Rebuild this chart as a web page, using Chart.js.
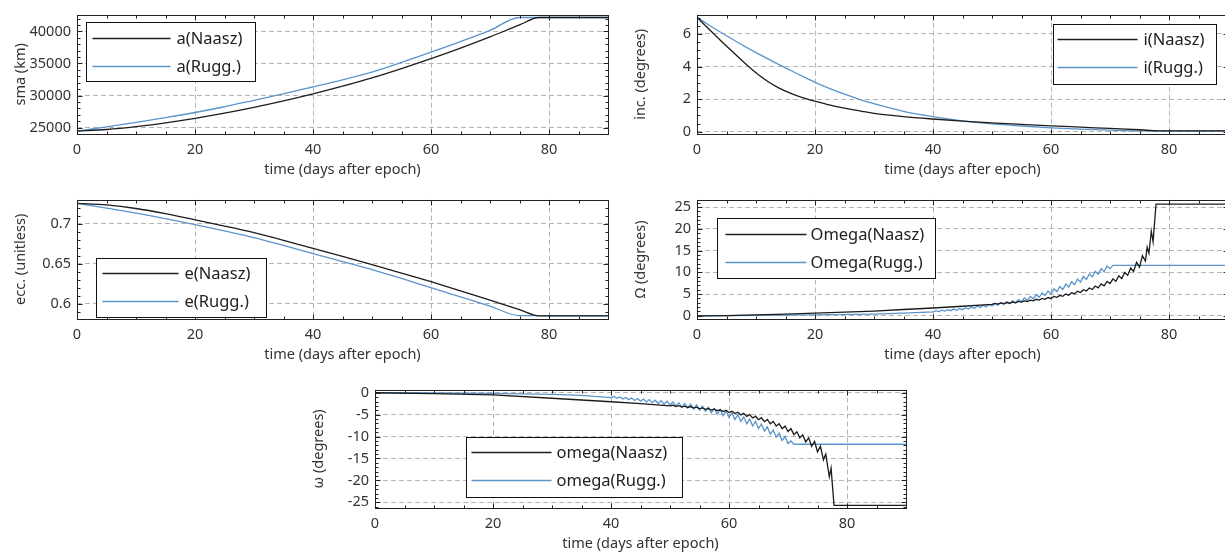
<!DOCTYPE html>
<html><head><meta charset="utf-8">
<script src="https://cdn.jsdelivr.net/npm/chart.js@4.4.0/dist/chart.umd.min.js"></script>
<style>
html,body{margin:0;padding:0;background:#fff;overflow:hidden;width:1225px;height:557px;position:relative}
canvas{position:absolute;display:block}
</style></head><body>
<canvas id="c1"></canvas>
<canvas id="c2"></canvas>
<canvas id="c3"></canvas>
<canvas id="c4"></canvas>
<canvas id="c5"></canvas>
<script>
// ---------- axis ticks ----------
const xTicks = [0, 20, 40, 60, 80];
const smaTicks = [25000, 30000, 35000, 40000];
const incTicks = [0, 2, 4, 6];
const eccTicks = [0.6, 0.65, 0.7];
const raanTicks = [0, 5, 10, 15, 20, 25];
const aopTicks = [-25, -20, -15, -10, -5, 0];

// ---------- series labels ----------
const smaLabels = ['a(Naasz)', 'a(Rugg.)'];
const incLabels = ['i(Naasz)', 'i(Rugg.)'];
const eccLabels = ['e(Naasz)', 'e(Rugg.)'];
const raanLabels = ['Omega(Naasz)', 'Omega(Rugg.)'];
const aopLabels = ['omega(Naasz)', 'omega(Rugg.)'];
const xTitle = 'time (days after epoch)';

// ---------- data [day, value] ----------
const smaNaasz = [[0,24450],[5,24700],[10,25150],[15,25750],[20,26450],[25,27250],[30,28150],[35,29150],[40,30250],[45,31450],[50,32750],[55,34200],[60,35750],[65,37400],[70,39150],[75,41000],[78.3,42164],[90,42164]];
const smaRugg = [[0,24450],[5,25100],[10,25800],[15,26550],[20,27350],[25,28250],[30,29250],[35,30250],[40,31350],[45,32450],[50,33650],[55,35150],[60,36750],[65,38400],[70,40150],[75,42164],[90,42164]];

const incNaasz = [[0,7.02],[2,6.3],[4,5.6],[6,4.92],[8,4.25],[10,3.62],[12,3.08],[14,2.66],[16,2.34],[18,2.08],[20,1.87],[22,1.68],[25,1.45],[28,1.25],[30,1.13],[35,0.93],[40,0.78],[45,0.65],[50,0.54],[55,0.45],[60,0.36],[65,0.28],[70,0.2],[75,0.12],[78.3,0.05],[90,0.05]];
const incRugg = [[0,7.02],[2,6.55],[4,6.1],[6,5.67],[8,5.25],[10,4.85],[12,4.47],[14,4.1],[16,3.74],[18,3.38],[20,3.03],[22,2.72],[25,2.3],[28,1.93],[30,1.72],[35,1.25],[40,0.92],[45,0.66],[50,0.48],[55,0.35],[60,0.24],[65,0.16],[70,0.1],[75,0.05],[90,0.05]];

const eccNaasz = [[0,0.7254],[5,0.7234],[10,0.7190],[15,0.7125],[20,0.7048],[25,0.6970],[30,0.6887],[35,0.6792],[40,0.6690],[45,0.6590],[50,0.6488],[55,0.6383],[60,0.6274],[65,0.6160],[70,0.6044],[75,0.5925],[78.3,0.5848],[90,0.5848]];
const eccRugg = [[0,0.7254],[5,0.7194],[10,0.7133],[15,0.7062],[20,0.6988],[25,0.6910],[30,0.6827],[35,0.6728],[40,0.6625],[45,0.6527],[50,0.6427],[55,0.6316],[60,0.6200],[65,0.6085],[70,0.5970],[75,0.5850],[90,0.5850]];

const raanNaasz = [[0,0],[5,0.05],[10,0.2],[15,0.4],[20,0.6],[25,0.85],[30,1.1],[35,1.45],[40,1.8],[45,2.2],[50,2.65],
 [50.5,2.85],[51,2.7],[51.5,2.95],[52,2.8],[52.5,3.05],[53,2.9],[53.5,3.15],[54,3.0],[54.5,3.3],[55,3.15],[55.5,3.45],[56,3.3],[56.5,3.6],[57,3.45],[57.5,3.8],[58,3.6],[58.5,4.0],[59,3.8],[59.5,4.2],[60,4.0],
 [60.5,4.45],[61,4.25],[61.5,4.7],[62,4.5],[62.5,5.0],[63,4.75],[63.5,5.3],[64,5.05],[64.5,5.65],[65,5.35],[65.5,6.0],[66,5.7],[66.5,6.4],[67,6.05],[67.5,6.85],[68,6.45],[68.5,7.35],[69,6.9],[69.5,7.9],[70,7.4],
 [70.5,8.5],[71,7.95],[71.5,9.2],[72,8.55],[72.5,10.0],[73,9.3],[73.5,11.0],[74,10.2],[74.5,12.3],[75,11.2],[75.5,13.8],[76,12.6],[76.3,15.8],[76.6,14.4],[77,19.5],[77.3,17.0],[77.8,25.7],[90,25.7]];
const raanRugg = [[0,0],[10,0.1],[20,0.2],[30,0.4],[35,0.6],[40,0.9],
 [40.5,1.2],[41,0.98],[41.5,1.3],[42,1.08],[42.5,1.42],[43,1.18],[43.5,1.55],[44,1.28],[44.5,1.7],[45,1.42],[45.5,1.85],[46,1.55],[46.5,2.05],[47,1.7],[47.5,2.25],[48,1.9],[48.5,2.45],[49,2.05],[49.5,2.65],[50,2.25],
 [50.5,2.85],[51,2.45],[51.5,3.05],[52,2.6],[52.5,3.25],[53,2.8],[53.5,3.5],[54,3.0],[54.5,3.75],[55,3.25],[55.5,4.1],[56,3.55],[56.5,4.45],[57,3.9],[57.5,4.85],[58,4.25],[58.5,5.25],[59,4.65],[59.5,5.7],[60,5.05],
 [60.5,6.2],[61,5.55],[61.5,6.75],[62,6.05],[62.5,7.3],[63,6.6],[63.5,7.85],[64,7.15],[64.5,8.45],[65,7.75],[65.5,9.05],[66,8.35],[66.5,9.65],[67,8.95],[67.5,10.25],[68,9.55],[68.5,10.85],[69,10.15],[69.5,11.45],[70,10.85],[70.5,11.6],[90,11.6]];

const aopNaasz = [[0,0],[10,-0.2],[20,-0.5],[30,-1.25],[40,-2.05],[45,-2.5],[50,-3.0],
 [50.5,-2.85],[51,-3.15],[51.5,-2.95],[52,-3.25],[52.5,-3.05],[53,-3.35],[53.5,-3.15],[54,-3.5],[54.5,-3.3],[55,-3.65],[55.5,-3.45],[56,-3.8],[56.5,-3.6],[57,-3.95],[57.5,-3.7],[58,-4.1],[58.5,-3.85],[59,-4.3],[59.5,-4.0],[60,-4.5],
 [60.5,-4.2],[61,-4.75],[61.5,-4.45],[62,-5.05],[62.5,-4.7],[63,-5.4],[63.5,-5.0],[64,-5.75],[64.5,-5.35],[65,-6.15],[65.5,-5.7],[66,-6.6],[66.5,-6.1],[67,-7.1],[67.5,-6.55],[68,-7.6],[68.5,-7.05],[69,-8.2],[69.5,-7.6],[70,-8.85],
 [70.5,-8.2],[71,-9.55],[71.5,-8.9],[72,-10.3],[72.5,-9.6],[73,-11.2],[73.5,-10.3],[74,-12.2],[74.5,-11.1],[75,-13.5],[75.5,-12.2],[76,-15.3],[76.4,-14.0],[77,-19.2],[77.3,-17.2],[77.8,-25.7],[90,-25.7]];
const aopRugg = [[0,0],[10,-0.05],[20,-0.15],[30,-0.35],[35,-0.6],[40,-1.1],
 [40.5,-0.85],[41,-1.25],[41.5,-0.97],[42,-1.4],[42.5,-1.07],[43,-1.57],[43.5,-1.2],[44,-1.75],[44.5,-1.32],[45,-1.92],[45.5,-1.45],[46,-2.1],[46.5,-1.55],[47,-2.27],[47.5,-1.7],[48,-2.45],[48.5,-1.8],[49,-2.62],[49.5,-1.95],[50,-2.8],
 [50.5,-2.1],[51,-3.02],[51.5,-2.27],[52,-3.25],[52.5,-2.45],[53,-3.47],[53.5,-2.62],[54,-3.7],[54.5,-2.8],[55,-3.97],[55.5,-3.05],[56,-4.25],[56.5,-3.28],[57,-4.57],[57.5,-3.57],[58,-4.9],[58.5,-3.85],[59,-5.25],[59.5,-4.17],[60,-5.6],
 [60.5,-4.55],[61,-6.1],[61.5,-5.0],[62,-6.55],[62.5,-5.5],[63,-7.05],[63.5,-6.0],[64,-7.55],[64.5,-6.55],[65,-8.15],[65.5,-7.15],[66,-8.75],[66.5,-7.8],[67,-9.45],[67.5,-8.5],[68,-10.15],[68.5,-9.2],[69,-10.9],[69.5,-9.95],[70,-11.6],
 [70.5,-11.0],[71,-11.75],[90,-11.75]];

// ---------- styling ----------
const FONT = '"Noto Sans", sans-serif';
const TXT = '#333';
const COLORS = ['#1c1c1c', '#5b94cb'];

const gnuPlugin = {
  id: 'gnu',
  afterDatasetsDraw(chart, args, o) {
    const {ctx, chartArea: a, scales: {x, y}} = chart;
    ctx.save();
    ctx.strokeStyle = '#222';
    ctx.lineWidth = 1;
    ctx.beginPath();
    const L = Math.round(a.left) + 0.5, R = Math.round(a.right) + 0.5;
    const T = Math.round(a.top) + 0.5, B = Math.round(a.bottom) + 0.5;
    const isMaj = (v, s) => Math.abs(v / s - Math.round(v / s)) < 1e-6;
    for (let k = Math.ceil(x.min / o.xMinor - 1e-9); k * o.xMinor <= x.max + 1e-9; k++) {
      const v = k * o.xMinor, px = Math.round(x.getPixelForValue(v)) + 0.5;
      const len = isMaj(v, o.xMajor) ? 5 : 3;
      ctx.moveTo(px, B); ctx.lineTo(px, B - len);
      ctx.moveTo(px, T); ctx.lineTo(px, T + len);
    }
    for (let k = Math.ceil(y.min / o.yMinor - 1e-9); k * o.yMinor <= y.max + 1e-9; k++) {
      const v = k * o.yMinor, py = Math.round(y.getPixelForValue(v)) + 0.5;
      const len = isMaj(v, o.yMajor) ? 5 : 3;
      ctx.moveTo(L, py); ctx.lineTo(L + len, py);
      ctx.moveTo(R, py); ctx.lineTo(R - len, py);
    }
    ctx.stroke();
    ctx.strokeRect(L, T, R - L, B - T);
    // legend box
    const g = o.leg;
    const bx = Math.round(a.left + g.x) + 0.5, by = Math.round(a.top + g.y) + 0.5;
    ctx.fillStyle = '#fff';
    ctx.fillRect(bx, by, g.w, g.h);
    ctx.strokeStyle = '#111';
    ctx.strokeRect(bx, by, g.w, g.h);
    ctx.font = g.font + 'px ' + FONT;
    ctx.textBaseline = 'middle';
    ctx.textAlign = 'left';
    chart.data.datasets.forEach((ds, i) => {
      const ry = Math.round(by + g.r0 + i * g.gap) + 0.5;
      ctx.strokeStyle = ds.borderColor;
      ctx.lineWidth = 1.3;
      ctx.beginPath();
      ctx.moveTo(bx + g.s0, ry); ctx.lineTo(bx + g.s1, ry);
      ctx.stroke();
      ctx.fillStyle = '#222';
      ctx.fillText(ds.label, bx + g.tx, ry + 1);
    });
    ctx.restore();
  }
};

const panels = [
  {id:'c1', left:0, top:0, h:190, yTitle:'sma (km)', yMin:24000, yMax:42600, yTicks:smaTicks, yMajor:5000, yMinor:1000,
   labels:smaLabels, series:[smaNaasz, smaRugg], smooth:true,
   leg:{x:9, y:7, w:169, h:59, r0:15, gap:28, s0:6, s1:84, tx:90, font:16.5}},
  {id:'c2', left:620, top:0, h:190, yTitle:'inc. (degrees)', yMin:-0.14, yMax:7.18, yTicks:incTicks, yMajor:2, yMinor:0.5,
   labels:incLabels, series:[incNaasz, incRugg], smooth:true,
   leg:{x:356, y:9, w:163, h:60, r0:14, gap:28, s0:4, s1:84, tx:90, font:16.5}},
  {id:'c3', left:0, top:185, h:190, yTitle:'ecc. (unitless)', yMin:0.5808, yMax:0.730, yTicks:eccTicks, yMajor:0.05, yMinor:0.01,
   labels:eccLabels, series:[eccNaasz, eccRugg], smooth:true,
   leg:{x:19, y:58, w:170, h:59, r0:14, gap:28, s0:6, s1:82, tx:88, font:16.5}},
  {id:'c4', left:620, top:185, h:190, yTitle:'Ω (degrees)', yMin:-0.73, yMax:26.7, yTicks:raanTicks, yMajor:5, yMinor:1,
   labels:raanLabels, series:[raanNaasz, raanRugg], smooth:false,
   leg:{x:20, y:18, w:218, h:60, r0:15, gap:28, s0:8, s1:89, tx:93, font:16.5}},
  {id:'c5', left:298, top:375, h:189, yTitle:'ω (degrees)', yMin:-26.3, yMax:0.7, yTicks:aopTicks, yMajor:5, yMinor:1,
   labels:aopLabels, series:[aopNaasz, aopRugg], smooth:false,
   leg:{x:91, y:47, w:216, h:60, r0:14, gap:28, s0:5, s1:85, tx:90, font:16.5}}
];

panels.forEach(p => {
  const cv = document.getElementById(p.id);
  cv.width = 620; cv.height = p.h;
  cv.style.left = p.left + 'px'; cv.style.top = p.top + 'px';
  const datasets = p.series.map((s, i) => ({
    label: p.labels[i],
    data: s.map(([t, v]) => ({x: t, y: v})),
    borderColor: COLORS[i],
    borderWidth: 1.3,
    pointRadius: 0,
    fill: false,
    cubicInterpolationMode: p.smooth ? 'monotone' : 'default',
    tension: 0
  }));
  new Chart(cv, {
    type: 'line',
    data: {datasets},
    options: {
      responsive: false,
      animation: false,
      events: [],
      layout: {padding: {top: 10, right: 12, bottom: 10, left: 0}},
      plugins: {legend: {display: false}, tooltip: {enabled: false},
        gnu: {xMajor: 20, xMinor: 5, yMajor: p.yMajor, yMinor: p.yMinor, leg: p.leg}},
      scales: {
        x: {
          type: 'linear', min: 0, max: 90,
          afterBuildTicks: s => { s.ticks = xTicks.map(v => ({value: v})); },
          afterFit: s => { s.height = 46; },
          grid: {color: '#b5b5b5', lineWidth: 1, drawTicks: false},
          border: {display: false, dash: [5, 3]},
          ticks: {padding: 7, color: TXT, font: {family: FONT, size: 14.5}, maxRotation: 0, callback: v => String(v)},
          title: {display: true, text: xTitle, color: TXT, font: {family: FONT, size: 14.5}, padding: {top: 0, bottom: 1}}
        },
        y: {
          type: 'linear', min: p.yMin, max: p.yMax,
          afterBuildTicks: s => { s.ticks = p.yTicks.map(v => ({value: v})); },
          afterFit: s => { s.width = 77; },
          grid: {color: '#b5b5b5', lineWidth: 1, drawTicks: false},
          border: {display: false, dash: [5, 3]},
          ticks: {padding: 6, color: TXT, font: {family: FONT, size: 14.5}, callback: v => String(v)},
          title: {display: true, text: p.yTitle, color: TXT, font: {family: FONT, size: 14.5}, padding: {top: 12, bottom: 0}}
        }
      }
    },
    plugins: [gnuPlugin]
  });
});
</script>
</body></html>
